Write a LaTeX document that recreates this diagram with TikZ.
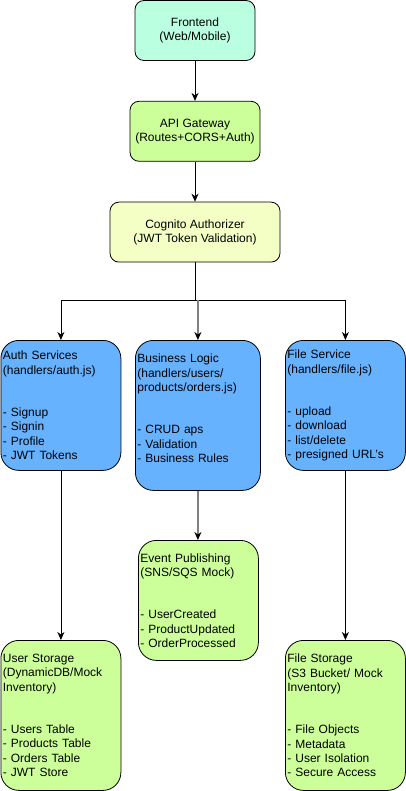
\documentclass[tikz,border=0pt]{standalone}
\usepackage{fontspec}
\setmainfont{Liberation Sans}
\usetikzlibrary{arrows.meta,positioning}

\definecolor{mint}{HTML}{B9FFE0}
\definecolor{lime}{HTML}{CCFF99}
\definecolor{pale}{HTML}{F4FFC6}
\definecolor{sky}{HTML}{66B2FF}

\begin{document}
\begin{tikzpicture}[
            x = 1pt, y = -1pt, % one unit per pixel, y going down
            > = {Stealth[length=8pt, width=7pt, inset=2.5pt]}, % arrow head style
            node distance = 40pt, % gap between stacked boxes
            every node/.style = {font=\fontsize{12}{14.2}\selectfont},
            box/.style = {draw, line width=0.8pt, rounded corners=9pt, align=center,
                          inner sep=2pt, minimum height=60pt},
            card/.style = {draw, line width=0.8pt, rounded corners=18pt, align=left,
                           inner sep=2pt, text width=116pt, minimum width=120pt, anchor=north west},
            link/.style = {->, line width=0.8pt},
            greylink/.style = {-{Stealth[length=8pt, width=7pt, inset=2.5pt, black]},
                               line width=1.3pt, draw=gray}
        ]

	\useasboundingbox (0,0) rectangle (406,791);

	% top chain
	\node[box, fill=mint, minimum width=120pt] (front) at (195,30.5) {Frontend\\(Web/Mobile)};
	\node[box, fill=lime, minimum width=130pt] (gateway) [below=of front] {API Gateway\\(Routes+CORS+Auth)};
	\node[box, fill=pale, minimum width=170pt] (cognito) [below=of gateway] {Cognito Authorizer\\(JWT Token Validation)};

	% services
	\node[card, fill=sky, minimum height=130pt] (auth) at (0.5,340)
	    {Auth Services\\(handlers/auth.js)\\ ~\\ ~\\- Signup\\- Signin\\- Profile\\- JWT Tokens};
	\node[card, fill=sky, minimum height=150pt, text width=121pt, minimum width=125pt] (logic) at (135,340)
	    {Business Logic\\(handlers/users/\\products/orders.js)\\ ~\\ ~\\- CRUD aps\\- Validation\\- Business Rules\\ ~};
	\node[card, fill=sky, minimum height=130pt] (file) at (285,340)
	    {File Service\\(handlers/file.js)\\ ~\\ ~\\- upload\\- download\\- list/delete\\- presigned URL's};

	% storage and events
	\node[card, fill=lime, minimum height=120pt] (events) at (138,540)
	    {Event Publishing\\(SNS/SQS Mock)\\ ~\\ ~\\- UserCreated\\- ProductUpdated\\- OrderProcessed};
	\node[card, fill=lime, minimum height=150pt] (userstore) at (0.5,640)
	    {User Storage\\(DynamicDB/Mock\\Inventory)\\ ~\\ ~\\- Users Table\\- Products Table\\- Orders Table\\- JWT Store};
	\node[card, fill=lime, minimum height=150pt] (filestore) at (285,640)
	    {File Storage\\(S3 Bucket/ Mock\\Inventory)\\ ~\\ ~\\- File Objects\\- Metadata\\- User Isolation\\- Secure Access};

	\coordinate (split) at (195,300);

	\draw[link] (front) -- (gateway);
	\draw[link] (gateway) -- (cognito);
	\draw[line width=0.8pt] (cognito) -- (split);
	\draw[link] (split) -| (auth);
	\draw[link] (split) -| (file);
	\draw[greylink] (split -| logic.north) -- (logic);
	\draw[greylink] (logic) -- (logic.south |- events.north);
	\draw[link] (auth) -- (userstore);
	\draw[link] (file) -- (filestore);

\end{tikzpicture}
\end{document}
